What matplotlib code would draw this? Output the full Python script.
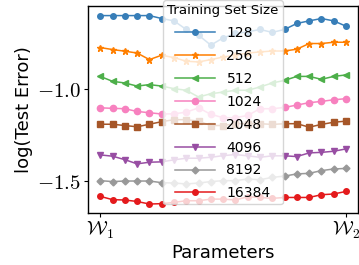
import matplotlib
matplotlib.use('Agg')
import matplotlib.pyplot as plt
import numpy as np

plt.rcParams['mathtext.fontset'] = 'cm'
plt.rcParams['font.family'] = ['DejaVu Sans']

# ----------------------------------------------------------------------------
# data (log test error along the path W1 -> W2)
# ----------------------------------------------------------------------------
train_sizes = ['128', '256', '512', '1024', '2048', '4096', '8192', '16384']

err_128 = [-0.596, -0.596, -0.596, -0.596, -0.596, -0.612, -0.625, -0.672,
           -0.703, -0.758, -0.718, -0.694, -0.685, -0.672, -0.688, -0.672,
           -0.639, -0.625, -0.612, -0.625, -0.654]
err_256 = [-0.771, -0.782, -0.791, -0.801, -0.837, -0.813, -0.826, -0.846,
           -0.850, -0.837, -0.823, -0.813, -0.801, -0.795, -0.790, -0.790,
           -0.780, -0.749, -0.749, -0.742, -0.742]
err_512 = [-0.929, -0.956, -0.965, -0.982, -0.974, -0.982, -0.996, -1.005,
           -1.042, -1.024, -1.015, -1.005, -1.005, -0.987, -0.965, -0.951,
           -0.929, -0.929, -0.945, -0.929, -0.921]
err_1024 = [-1.101, -1.104, -1.106, -1.121, -1.128, -1.135, -1.134, -1.125,
            -1.101, -1.137, -1.155, -1.155, -1.143, -1.106, -1.106, -1.099,
            -1.086, -1.073, -1.066, -1.057, -1.051]
err_2048 = [-1.191, -1.191, -1.198, -1.205, -1.191, -1.177, -1.166, -1.166,
            -1.174, -1.198, -1.198, -1.188, -1.188, -1.188, -1.192, -1.188,
            -1.188, -1.207, -1.192, -1.180, -1.174]
err_4096 = [-1.359, -1.366, -1.385, -1.408, -1.399, -1.397, -1.386, -1.377,
            -1.377, -1.372, -1.363, -1.357, -1.364, -1.372, -1.364, -1.364,
            -1.368, -1.348, -1.345, -1.339, -1.326]
err_8192 = [-1.500, -1.505, -1.502, -1.502, -1.502, -1.511, -1.513, -1.518,
            -1.513, -1.505, -1.500, -1.500, -1.491, -1.495, -1.482, -1.475,
            -1.463, -1.460, -1.445, -1.436, -1.433]
err_16384 = [-1.586, -1.604, -1.606, -1.614, -1.628, -1.626, -1.619, -1.610,
             -1.610, -1.601, -1.601, -1.606, -1.588, -1.592, -1.597, -1.592,
             -1.592, -1.592, -1.577, -1.573, -1.559]

all_errors = [err_128, err_256, err_512, err_1024,
              err_2048, err_4096, err_8192, err_16384]

x_ticks = [0, 20]
x_ticklabels = [r'$\mathcal{W}_1$', r'$\mathcal{W}_2$']
y_ticks = [-1.5, -1.0]
y_ticklabels = [r'$-1.5$', r'$-1.0$']

# style per series (Set1-like colours)
colors = ['#377eb8', '#ff7f00', '#4daf4a', '#f781bf',
          '#a65628', '#984ea3', '#999999', '#e41a1c']
markers = ['o', '*', '<', 'o', 's', 'v', 'D', 'o']
msizes = [4, 5, 4.5, 4.5, 4, 4.5, 3.5, 4]

# ----------------------------------------------------------------------------
# figure
# ----------------------------------------------------------------------------
fig = plt.figure(figsize=(3.59, 2.65), dpi=100)
ax = fig.add_axes([0.245, 0.197, 0.753, 0.780])

for k in range(len(train_sizes)):
    x = np.arange(len(all_errors[k]))
    ax.plot(x, all_errors[k], color=colors[k], marker=markers[k],
            markersize=msizes[k], linewidth=1.1, label=train_sizes[k])

ax.set_xlim(-1, 21)
ax.set_ylim(-1.676, -0.544)

ax.set_xticks(x_ticks)
ax.set_xticklabels(x_ticklabels, fontsize=14)
ax.set_yticks(y_ticks)
ax.set_yticklabels(y_ticklabels, fontsize=15)
ax.tick_params(length=3, width=0.8, pad=2)

ax.set_xlabel('Parameters', fontsize=13, labelpad=2)
ax.set_ylabel('log(Test Error)', fontsize=13, labelpad=3)

for sp in ax.spines.values():
    sp.set_linewidth(1.0)

# legend hangs over the top of the axes
leg = ax.legend(title='Training Set Size', loc='upper left',
                bbox_to_anchor=(163 / 359, 1.0),
                bbox_transform=fig.transFigure, borderaxespad=0.0,
                fontsize=10, title_fontsize=9.6, framealpha=0.8,
                handlelength=2.9, handletextpad=0.8, labelspacing=0.64,
                borderpad=0.3, fancybox=True)
leg.get_frame().set_edgecolor('0.8')

fig.savefig('out.png', dpi=100)
